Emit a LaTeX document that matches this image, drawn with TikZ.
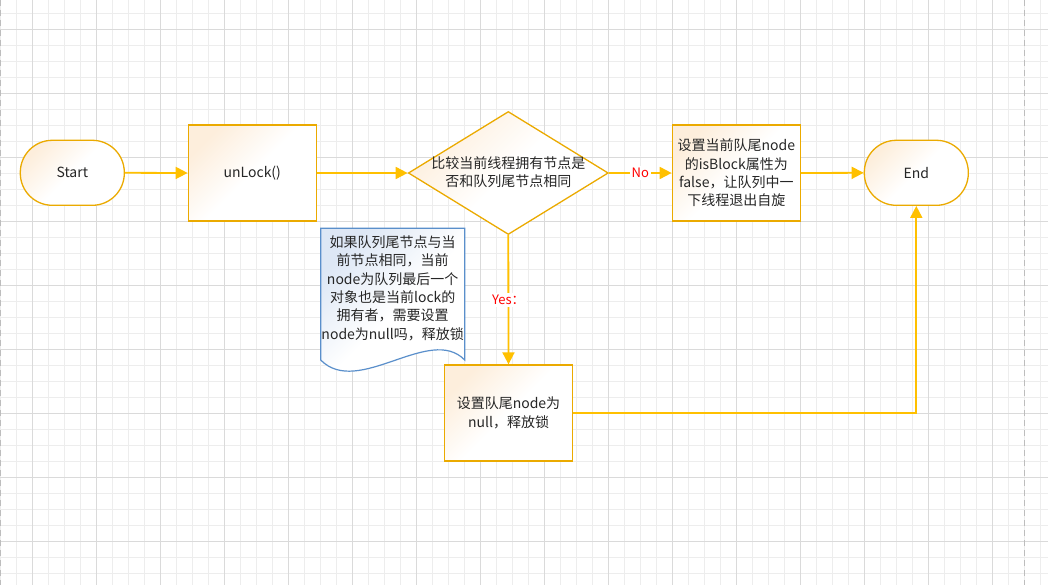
\documentclass[tikz,border=0pt]{standalone}
\usepackage{fontspec}
\setmainfont{Noto Sans CJK SC}
\usetikzlibrary{shapes.geometric,arrows.meta}
\definecolor{gridminor}{HTML}{EDEDED}
\definecolor{gridmajor}{HTML}{DADADA}
\definecolor{pagedash}{HTML}{BDBDBD}
\definecolor{shapeline}{HTML}{EBAA00}
\definecolor{connline}{HTML}{FFC000}
\definecolor{peach}{HTML}{FDEEDC}
\definecolor{noteline}{HTML}{5A8FCB}
\definecolor{noteblue}{HTML}{DDE7F5}
\definecolor{txt}{HTML}{262626}
\definecolor{lblred}{HTML}{FF0000}
\tikzset{
  shapefill/.style={top color=peach, bottom color=white, middle color=white, shading angle=45},
  terminal/.style={shapefill, draw=shapeline, line width=1.3pt, rounded corners=32pt,
    minimum width=104pt, minimum height=65pt, inner sep=0pt, text=txt, font=\fontsize{14pt}{18.3pt}\selectfont},
  process/.style={shapefill, draw=shapeline, line width=1.3pt,
    minimum width=128pt, minimum height=96pt, inner sep=0pt, align=center, text=txt,
    font=\fontsize{14pt}{18.3pt}\selectfont},
  decision/.style={shapefill, draw=shapeline, line width=1.3pt, diamond,
    minimum width=200pt, minimum height=123pt, inner sep=0pt},
  plaintext/.style={align=center, text=txt, inner sep=0pt, font=\fontsize{14pt}{18.3pt}\selectfont},
  conn/.style={draw=connline, line width=1.8pt, -{Triangle[length=12pt,width=12pt]}},
  lbl/.style={fill=white, text=lblred, inner sep=2pt, font=\fontsize{13pt}{15pt}\selectfont},
}
\begin{document}
\begin{tikzpicture}[x=1pt,y=-1pt]
\useasboundingbox (0,0) rectangle (1048,585);
\fill[white] (0,0) rectangle (1048,585);
% grid
\foreach \x in {0.7,16.7,...,1048} \draw[gridminor, line width=1pt] (\x,0) -- (\x,585);
\foreach \y in {13.3,29.3,...,585} \draw[gridminor, line width=1pt] (0,\y) -- (1048,\y);
\foreach \x in {32.7,96.7,...,1048} \draw[gridmajor, line width=1pt] (\x,0) -- (\x,585);
\foreach \y in {29.3,93.3,...,585} \draw[gridmajor, line width=1pt] (0,\y) -- (1048,\y);
\draw[pagedash, line width=1pt, dash pattern=on 6pt off 4pt] (0.7,0) -- (0.7,585);
\draw[pagedash, line width=1pt, dash pattern=on 6pt off 4pt] (1024.7,0) -- (1024.7,585);

% nodes
\node[terminal] (start) at (72.3,172.8) {Start};
\node[process] (unlock) at (252.3,173) {unLock()};
\node[decision] (dec) at (508.3,173) {};
\node[plaintext] (dectext) at (508.3,172.5) {比较当前线程拥有节点是\\否和队列尾节点相同};
\node[process] (setblock) at (736.3,173) {设置当前队尾node\\的isBlock属性为\\false，让队列中一\\下线程退出自旋};
\node[terminal] (end) at (916.3,172.8) {End};
\node[process] (setnull) at (508.5,413.0) {设置队尾node为\\null，释放锁};

% note (document shape)
\shade[top color=noteblue, bottom color=white, middle color=white, shading angle=45]
  (320.7,228.3) -- (464.7,228.3) -- (464.7,360)
  .. controls (430,324) and (358,398) .. (320.7,360) -- cycle;
\draw[noteline, line width=1.2pt]
  (320.7,228.3) -- (464.7,228.3) -- (464.7,360)
  .. controls (430,324) and (358,398) .. (320.7,360) -- cycle;
\node[plaintext] (note) at (392.7,288.3) {如果队列尾节点与当\\前节点相同，当前\\node为队列最后一个\\对象也是当前lock的\\拥有者，需要设置\\node为null吗，释放锁};

% connectors
\draw[conn] (start.east) -- (unlock.west);
\draw[conn] (unlock.east) -- (dec.west);
\draw[conn] (dec.east) -- node[lbl] (nolbl) {No} (setblock.west);
\draw[conn] (setblock.east) -- (end.west);
\draw[conn] (dec.south) -- node[lbl] (yeslbl) {Yes：} (setnull.north);
\draw[conn] (setnull.east) -| (end.south);
\end{tikzpicture}
\end{document}
